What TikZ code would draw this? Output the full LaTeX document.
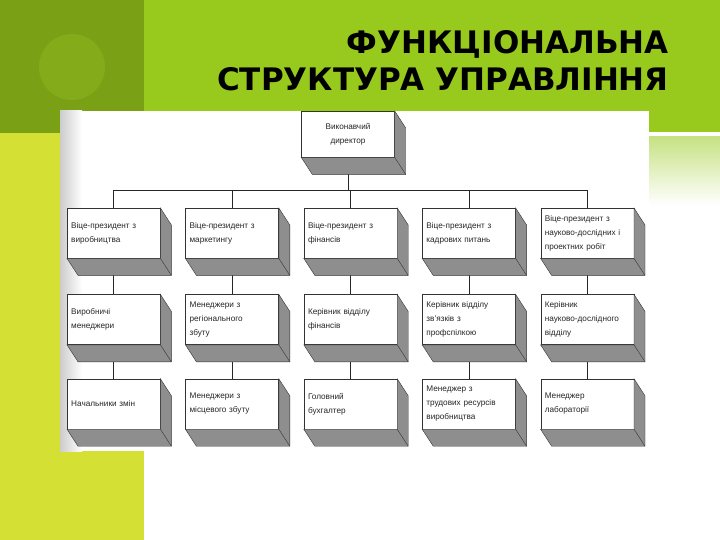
\documentclass[tikz,border=0pt]{standalone}
\usepackage{fontspec}
\usepackage{tikz}
\usetikzlibrary{positioning}
\newfontfamily\boxfont{Liberation Sans}
\newfontfamily\titlefont{DejaVu Sans}
\definecolor{oliva}{HTML}{7AA116}
\definecolor{olivaclara}{HTML}{84AB1A}
\definecolor{verde}{HTML}{98CA1E}
\definecolor{lima}{HTML}{D5E034}
\definecolor{sombra}{HTML}{8E8E8E}

\begin{document}
\begin{tikzpicture}[x=1pt, y=-1pt, font=\boxfont\fontsize{8.2}{14}\selectfont,
  bx/.style={draw=black!80, fill=white, text width=85pt, inner xsep=4pt, inner ysep=2pt,
    minimum height=50pt, align=left, anchor=north west, text=black!85},
  sd/.style={draw=black!80, fill=sombra},
  ln/.style={draw=black!85, line width=0.7pt}]
  \useasboundingbox (0,0) rectangle (720,540);
  % slide background
  \fill[oliva] (0,0) rectangle (144,133);
  \fill[olivaclara] (72,67) circle (33);
  \fill[lima] (0,133) rectangle (144,540);
  \fill[verde] (144,0) rectangle (720,132);
  \shade[top color=verde!55, bottom color=white] (144,137) rectangle (720,205);
  \node[font=\titlefont\bfseries\fontsize{31}{37}\selectfont, align=right, anchor=north east,
    inner sep=0pt] (title) at (669,30) {ФУНКЦІОНАЛЬНА\\СТРУКТУРА УПРАВЛІННЯ};
  % scanned chart area
  \fill[white] (60,111) rectangle (649,451);
  \shade[left color=gray!40, right color=white] (60,111) rectangle (82,451);
  % boxes
  \node[bx, minimum height=46pt, anchor=north, align=center] (d) at (348,111) {Виконавчий\\директор};
  \node[bx] (v1) at (67,208) {Віце-президент з\\виробництва};
  \node[bx, right=25pt of v1] (v2) {Віце-президент з\\маркетингу};
  \node[bx, right=25pt of v2] (v3) {Віце-президент з\\фінансів};
  \node[bx, right=25pt of v3] (v4) {Віце-президент з\\кадрових питань};
  \node[bx, right=25pt of v4] (v5) {Віце-президент з\\науково-дослідних і\\проектних робіт};
  \node[bx, below=36pt of v1] (k1) {Виробничі\\менеджери};
  \node[bx, below=36pt of v2] (k2) {Менеджери з\\регіонального\\збуту};
  \node[bx, below=36pt of v3] (k3) {Керівник відділу\\фінансів};
  \node[bx, below=36pt of v4] (k4) {Керівник відділу\\зв’язків з\\профспілкою};
  \node[bx, below=36pt of v5] (k5) {Керівник\\науково-дослідного\\відділу};
  \node[bx, below=34pt of k1] (n1) {Начальники змін};
  \node[bx, below=34pt of k2] (n2) {Менеджери з\\місцевого збуту};
  \node[bx, below=34pt of k3] (n3) {Головний\\бухгалтер};
  \node[bx, below=34pt of k4] (n4) {Менеджер з\\трудових ресурсів\\виробництва};
  \node[bx, below=34pt of k5] (n5) {Менеджер\\лабораторії};
  % connectors
  \coordinate (bus) at (0,190);
  \draw[ln] (d.south) -- (d.south |- bus);
  \draw[ln] (v1.north |- bus) -- (v5.north |- bus);
  \foreach \i in {1,...,5} {
    \draw[ln] (v\i.north |- bus) -- (v\i.north);
    \draw[ln] (v\i.south) -- (k\i.north);
    \draw[ln] (k\i.south) -- (n\i.north);
  }
  % 3d depth of the boxes
  \foreach \n in {d,v1,v2,v3,v4,v5,k1,k2,k3,k4,k5,n1,n2,n3,n4,n5} {
    \filldraw[sd] (\n.south west) -- ([shift={(11,17)}]\n.south west) -- ([shift={(11,17)}]\n.south east)
      -- ([shift={(11,17)}]\n.north east) -- (\n.north east) -- (\n.south east) -- cycle;
    \draw[black!80] (\n.south east) -- ([shift={(11,17)}]\n.south east);
  }
\end{tikzpicture}
\end{document}
